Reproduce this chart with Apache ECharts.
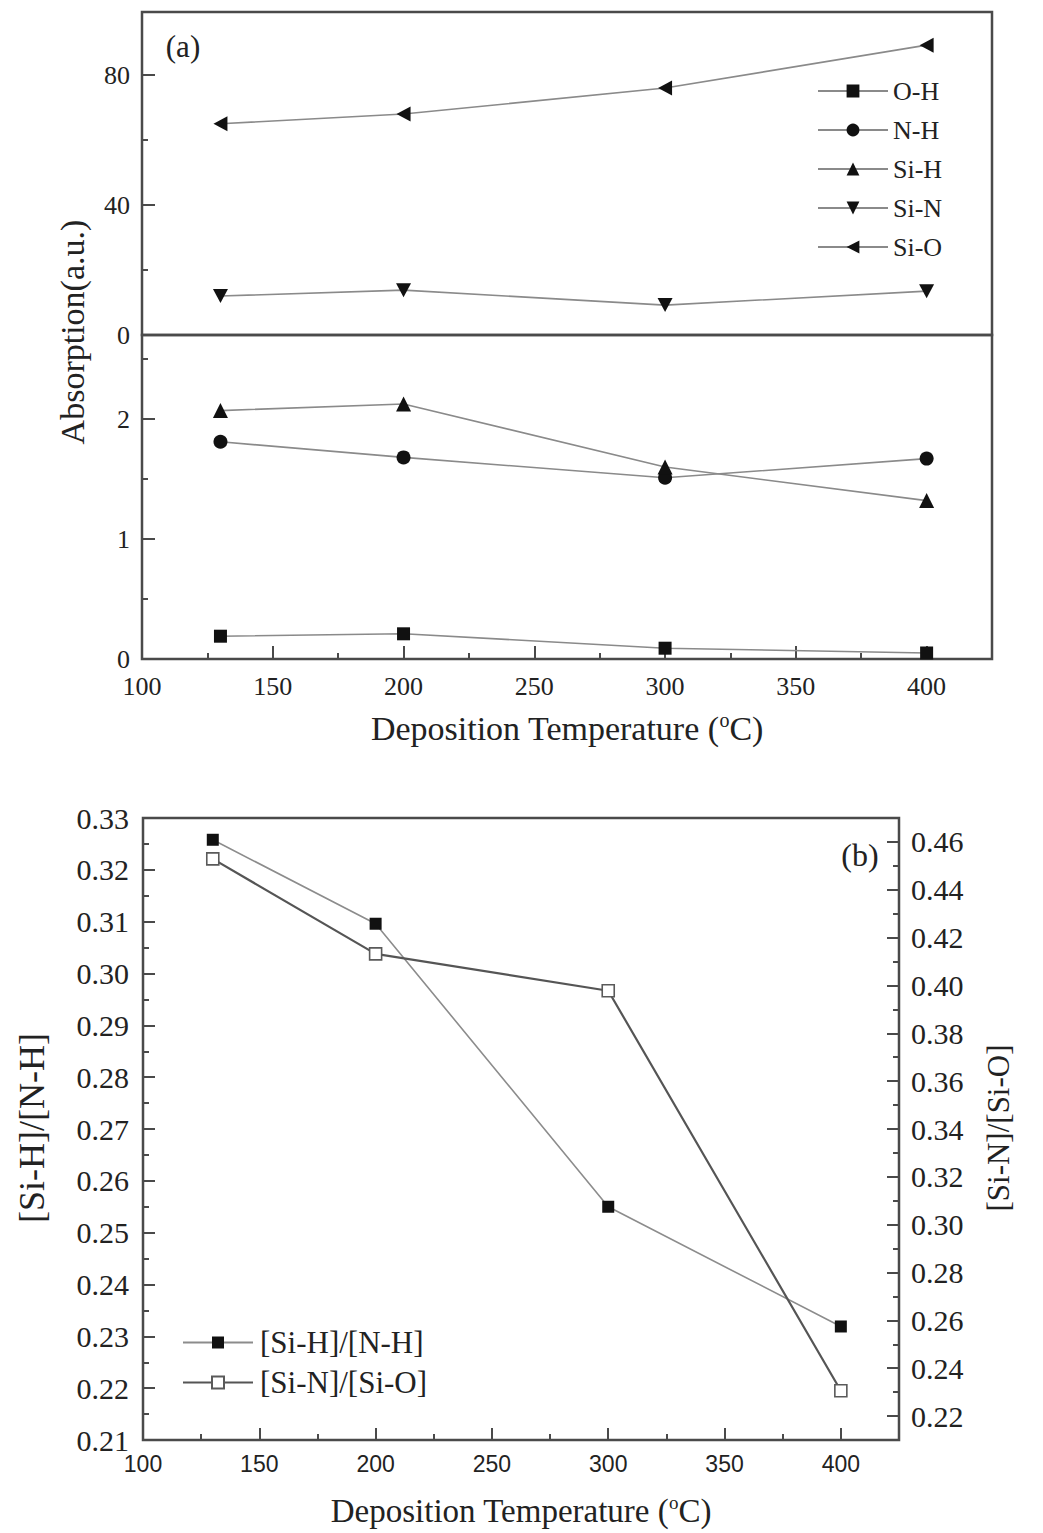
<!DOCTYPE html>
<html>
<head>
<meta charset="utf-8">
<script src="https://cdn.jsdelivr.net/npm/echarts@6/dist/echarts.min.js"></script>
<style>
html,body{margin:0;padding:0;background:#fff;}
#chart{width:1043px;height:1533px;}
</style>
</head>
<body>
<div id="chart"></div>
<script>
// ---------- data ----------
const temps = [130, 200, 300, 400];
const ohVals  = [0.19, 0.21, 0.09, 0.05];
const nhVals  = [1.81, 1.68, 1.51, 1.67];
const sihVals = [2.07, 2.125, 1.60, 1.32];
const sinVals = [12.0, 13.8, 9.2, 13.5];
const sioVals = [65.0, 68.0, 76.0, 89.2];
const ratioSiH_NH = [0.3258, 0.3096, 0.2550, 0.2319];
const ratioSiN_SiO = [0.4529, 0.4132, 0.3978, 0.2306];

// ---------- tick values ----------
const xMajor = [100, 150, 200, 250, 300, 350, 400];
const xMinor = [125, 175, 225, 275, 325, 375, 425];
const aUpperMajor = [0, 40, 80];
const aUpperMinor = [20, 60];
const aLowerMajor = [0, 1, 2];
const aLowerMinor = [0.5, 1.5, 2.5];
const bLeftMajor = [0.21, 0.22, 0.23, 0.24, 0.25, 0.26, 0.27, 0.28, 0.29, 0.30, 0.31, 0.32, 0.33];
const bLeftMinor = [0.215, 0.225, 0.235, 0.245, 0.255, 0.265, 0.275, 0.285, 0.295, 0.305, 0.315, 0.325];
const bRightMajor = [0.22, 0.24, 0.26, 0.28, 0.30, 0.32, 0.34, 0.36, 0.38, 0.40, 0.42, 0.44, 0.46];
const bRightMinor = [0.21, 0.23, 0.25, 0.27, 0.29, 0.31, 0.33, 0.35, 0.37, 0.39, 0.41, 0.43, 0.45, 0.47];

const pairs = (vals) => temps.map((t, i) => [t, vals[i]]);

const SERIF = '"Liberation Serif", "DejaVu Serif", serif';
const SANS = '"Liberation Sans", Arial, sans-serif';
const TXT = '#222';
const FRAME = '#4a4a4a';

const triDown = 'path://M0,0 L10,0 L5,9 Z';
const triLeft = 'path://M0,5 L9,0 L9,10 Z';

function majorAxis(o) {
  return Object.assign({
    type: 'value', scale: false,
    axisLine: {show: false},
    splitLine: {show: false},
    axisTick: {show: true, inside: true, length: 13, lineStyle: {color: FRAME, width: 2}},
  }, o);
}
function minorAxis(o) {
  return Object.assign({
    type: 'value',
    axisLine: {show: false},
    splitLine: {show: false},
    axisLabel: {show: false},
    axisTick: {show: true, inside: true, length: 6, lineStyle: {color: FRAME, width: 2}},
  }, o);
}

const chart = echarts.init(document.getElementById('chart'), null, {renderer: 'svg'});

const gridStyle = {show: true, borderColor: FRAME, borderWidth: 2.5, backgroundColor: 'transparent', containLabel: false};

const option = {
  animation: false,
  backgroundColor: '#fff',
  grid: [
    Object.assign({left: 142, top: 12, width: 850, height: 323}, gridStyle),
    Object.assign({left: 142, top: 335, width: 850, height: 324}, gridStyle),
    Object.assign({left: 143, top: 818, width: 756, height: 622}, gridStyle)
  ],
  xAxis: [
    {type: 'value', gridIndex: 0, min: 100, max: 425, show: false, position: 'bottom'},
    majorAxis({gridIndex: 1, min: 100, max: 425, position: 'bottom',
      axisTick: {show: true, inside: true, length: 13, lineStyle: {color: FRAME, width: 2}, customValues: xMajor},
      axisLabel: {customValues: xMajor, margin: 14, color: TXT, fontFamily: SERIF, fontSize: 26},
      name: 'Deposition Temperature ({sup|o}C)', nameLocation: 'middle', nameGap: 51,
      nameTextStyle: {color: TXT, fontFamily: SERIF, fontSize: 34, lineHeight: 36,
        rich: {sup: {fontFamily: SERIF, fontSize: 20, verticalAlign: 'top', lineHeight: 20, color: TXT}}}
    }),
    minorAxis({gridIndex: 1, min: 100, max: 425, position: 'bottom',
      axisTick: {show: true, inside: true, length: 6, lineStyle: {color: FRAME, width: 2}, customValues: xMinor}}),
    majorAxis({gridIndex: 2, min: 100, max: 425, position: 'bottom',
      axisTick: {show: true, inside: true, length: 12, lineStyle: {color: FRAME, width: 2}, customValues: xMajor},
      axisLabel: {customValues: xMajor, margin: 12, color: TXT, fontFamily: SANS, fontSize: 23},
      name: 'Deposition Temperature ({sup|o}C)', nameLocation: 'middle', nameGap: 53,
      nameTextStyle: {color: TXT, fontFamily: SERIF, fontSize: 33, lineHeight: 36,
        rich: {sup: {fontFamily: SERIF, fontSize: 19, verticalAlign: 'top', lineHeight: 20, color: TXT}}}
    }),
    minorAxis({gridIndex: 2, min: 100, max: 425, position: 'bottom',
      axisTick: {show: true, inside: true, length: 6, lineStyle: {color: FRAME, width: 2}, customValues: xMinor}})
  ],
  yAxis: [
    majorAxis({gridIndex: 0, min: 0, max: 99.4, position: 'left',
      axisTick: {show: true, inside: true, length: 13, lineStyle: {color: FRAME, width: 2}, customValues: aUpperMajor},
      axisLabel: {customValues: aUpperMajor, margin: 12, color: TXT, fontFamily: SERIF, fontSize: 26}}),
    minorAxis({gridIndex: 0, min: 0, max: 99.4, position: 'left',
      axisTick: {show: true, inside: true, length: 6, lineStyle: {color: FRAME, width: 2}, customValues: aUpperMinor}}),
    majorAxis({gridIndex: 1, min: 0, max: 2.7, position: 'left',
      axisTick: {show: true, inside: true, length: 13, lineStyle: {color: FRAME, width: 2}, customValues: aLowerMajor},
      axisLabel: {customValues: aLowerMajor, margin: 12, color: TXT, fontFamily: SERIF, fontSize: 26}}),
    minorAxis({gridIndex: 1, min: 0, max: 2.7, position: 'left',
      axisTick: {show: true, inside: true, length: 6, lineStyle: {color: FRAME, width: 2}, customValues: aLowerMinor}}),
    majorAxis({gridIndex: 2, min: 0.21, max: 0.33, position: 'left',
      axisTick: {show: true, inside: true, length: 12, lineStyle: {color: FRAME, width: 2}, customValues: bLeftMajor},
      axisLabel: {customValues: bLeftMajor, margin: 14, color: TXT, fontFamily: SERIF, fontSize: 30,
        formatter: (v) => Number(v).toFixed(2)}}),
    minorAxis({gridIndex: 2, min: 0.21, max: 0.33, position: 'left',
      axisTick: {show: true, inside: true, length: 6, lineStyle: {color: FRAME, width: 2}, customValues: bLeftMinor}}),
    majorAxis({gridIndex: 2, min: 0.21, max: 0.47, position: 'right',
      axisTick: {show: true, inside: true, length: 12, lineStyle: {color: FRAME, width: 2}, customValues: bRightMajor},
      axisLabel: {customValues: bRightMajor, margin: 12, color: TXT, fontFamily: SERIF, fontSize: 30,
        formatter: (v) => Number(v).toFixed(2)}}),
    minorAxis({gridIndex: 2, min: 0.21, max: 0.47, position: 'right',
      axisTick: {show: true, inside: true, length: 6, lineStyle: {color: FRAME, width: 2}, customValues: bRightMinor}})
  ],
  legend: [
    {
      data: ['O-H', 'N-H', 'Si-H', 'Si-N', 'Si-O'],
      orient: 'vertical', left: 812, top: 73, padding: 5,
      itemWidth: 70, itemHeight: 16, itemGap: 13,
      textStyle: {color: TXT, fontFamily: SERIF, fontSize: 26, lineHeight: 26, padding: [0, 0, 0, 0]}
    },
    {
      data: ['[Si-H]/[N-H]', '[Si-N]/[Si-O]'],
      orient: 'vertical', left: 177, top: 1322, padding: 5,
      itemWidth: 70, itemHeight: 15, itemGap: 9,
      textStyle: {color: TXT, fontFamily: SERIF, fontSize: 31, lineHeight: 31, padding: [0, 0, 0, 2]}
    }
  ],
  graphic: [
    {type: 'text', x: 72, y: 332, rotation: Math.PI / 2,
      style: {text: 'Absorption(a.u.)', font: '34px ' + SERIF, fill: TXT, align: 'center', verticalAlign: 'middle'}},
    {type: 'text', x: 32, y: 1128, rotation: Math.PI / 2,
      style: {text: '[Si-H]/[N-H]', font: '36px ' + SERIF, fill: TXT, align: 'center', verticalAlign: 'middle'}},
    {type: 'text', x: 998, y: 1128, rotation: Math.PI / 2,
      style: {text: '[Si-N]/[Si-O]', font: '31px ' + SERIF, fill: TXT, align: 'center', verticalAlign: 'middle'}},
    {type: 'text', x: 183, y: 46,
      style: {text: '(a)', font: '31px ' + SERIF, fill: TXT, align: 'center', verticalAlign: 'middle'}},
    {type: 'text', x: 860, y: 855,
      style: {text: '(b)', font: '32px ' + SERIF, fill: TXT, align: 'center', verticalAlign: 'middle'}}
  ],
  series: [
    {name: 'O-H', type: 'line', xAxisIndex: 1, yAxisIndex: 2, data: pairs(ohVals),
      symbol: 'rect', symbolSize: 13, itemStyle: {color: '#111'}, lineStyle: {color: '#8a8a8a', width: 1.6}},
    {name: 'N-H', type: 'line', xAxisIndex: 1, yAxisIndex: 2, data: pairs(nhVals),
      symbol: 'circle', symbolSize: 14, itemStyle: {color: '#111'}, lineStyle: {color: '#8a8a8a', width: 1.6}},
    {name: 'Si-H', type: 'line', xAxisIndex: 1, yAxisIndex: 2, data: pairs(sihVals),
      symbol: 'triangle', symbolSize: 15, itemStyle: {color: '#111'}, lineStyle: {color: '#8a8a8a', width: 1.6}},
    {name: 'Si-N', type: 'line', xAxisIndex: 0, yAxisIndex: 0, data: pairs(sinVals),
      symbol: triDown, symbolSize: [15, 14], itemStyle: {color: '#111'}, lineStyle: {color: '#8a8a8a', width: 1.6}},
    {name: 'Si-O', type: 'line', xAxisIndex: 0, yAxisIndex: 0, data: pairs(sioVals),
      symbol: triLeft, symbolSize: [14, 15], itemStyle: {color: '#111'}, lineStyle: {color: '#8a8a8a', width: 1.6}},
    {name: '[Si-H]/[N-H]', type: 'line', xAxisIndex: 3, yAxisIndex: 4, data: pairs(ratioSiH_NH),
      symbol: 'rect', symbolSize: 12, itemStyle: {color: '#111'}, lineStyle: {color: '#8c8c8c', width: 1.6}},
    {name: '[Si-N]/[Si-O]', type: 'line', xAxisIndex: 3, yAxisIndex: 6, data: pairs(ratioSiN_SiO),
      symbol: 'rect', symbolSize: 12, itemStyle: {color: '#fff', borderColor: '#5a5a5a', borderWidth: 1.6},
      lineStyle: {color: '#555', width: 2.2}}
  ]
};
chart.setOption(option);
</script>
</body>
</html>
